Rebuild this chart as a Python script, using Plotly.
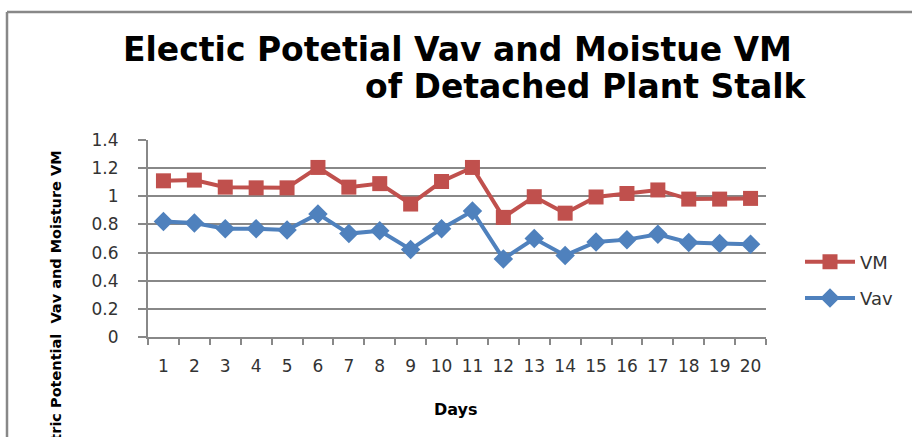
import plotly.graph_objects as go

days = [str(i) for i in range(1, 21)]
vm = [1.11, 1.115, 1.065, 1.06, 1.06, 1.205, 1.065, 1.09, 0.945, 1.105,
      1.205, 0.85, 0.997, 0.88, 0.995, 1.02, 1.045, 0.98, 0.98, 0.985]
vav = [0.82, 0.81, 0.77, 0.77, 0.76, 0.875, 0.735, 0.755, 0.622, 0.77,
       0.895, 0.555, 0.70, 0.58, 0.675, 0.692, 0.73, 0.672, 0.665, 0.66]

title_line1 = "Electic Potetial Vav and Moistue VM"
title_line2 = "of Detached Plant Stalk"
y_title = "Electric Potential  Vav and Moisture VM"
x_title = "Days"

fig = go.Figure()
fig.add_trace(go.Scatter(
    x=days, y=vm, name="VM", mode="lines+markers", legendgroup="vm",
    line=dict(color="#C0504D", width=4),
    marker=dict(symbol="square", size=15, color="#C0504D"),
))
fig.add_trace(go.Scatter(
    x=days, y=vav, name="Vav", mode="lines+markers", legendgroup="vav",
    line=dict(color="#4F81BD", width=4),
    marker=dict(symbol="diamond", size=15, color="#4F81BD"),
))

tick_font = dict(family="DejaVu Sans", size=17, color="#333333")

W, H = 912, 437
L, R, T, B = 148, 146, 140, 100
PW, PH = W - L - R, H - T - B


def px(xp):
    return (xp - L) / PW


def py(yp):
    return (H - B - yp) / PH


fig.update_layout(
    width=W, height=H,
    margin=dict(l=L, r=R, t=T, b=B, autoexpand=False),
    paper_bgcolor="white", plot_bgcolor="white",
    showlegend=True,
    legend=dict(x=px(800), y=py(280), xanchor="left", yanchor="middle",
                font=dict(family="DejaVu Sans", size=18, color="#333333"),
                traceorder="grouped", tracegroupgap=10, itemwidth=50,
                bgcolor="rgba(0,0,0,0)"),
    xaxis=dict(
        type="category", showline=True, linecolor="#888888", linewidth=2,
        ticks="outside", tickson="boundaries", ticklen=6, tickcolor="#888888",
        tickwidth=1.5, showgrid=False, tickfont=tick_font, ticklabelstandoff=13,
        tickangle=0, range=[-0.5, 19.5], automargin=False,
    ),
    yaxis=dict(
        range=[0, 1.4], dtick=0.2, showline=True, linecolor="#888888", linewidth=2,
        ticks="outside", ticklen=8, tickcolor="#888888", tickwidth=1.5,
        showgrid=True, gridcolor="#888888", gridwidth=2, zeroline=False,
        tickfont=tick_font, ticklabelstandoff=16, automargin=False,
    ),
    shapes=[
        dict(type="line", xref="paper", yref="paper", x0=px(7), x1=px(7),
             y0=py(12), y1=py(H + 10), line=dict(color="#888888", width=2.5)),
        dict(type="line", xref="paper", yref="paper", x0=px(7), x1=px(W + 10),
             y0=py(12), y1=py(12), line=dict(color="#888888", width=2.5)),
    ],
    annotations=[
        dict(text=title_line1, xref="paper", yref="paper",
             x=px(457), y=py(50), xanchor="center", yanchor="middle",
             showarrow=False, font=dict(family="DejaVu Sans", size=33, color="black")),
        dict(text=title_line2, xref="paper", yref="paper",
             x=px(586), y=py(86), xanchor="center", yanchor="middle",
             showarrow=False, font=dict(family="DejaVu Sans", size=33, color="black")),
        dict(text=y_title, xref="paper", yref="paper",
             x=px(56), y=py(148), xanchor="center", yanchor="top",
             showarrow=False, textangle=-90,
             font=dict(family="DejaVu Sans", size=14.5, color="black")),
        dict(text=x_title, xref="paper", yref="paper",
             x=px(456), y=py(409), xanchor="center", yanchor="middle",
             showarrow=False, font=dict(family="DejaVu Sans", size=16, color="black")),
    ],
)

for a in fig.layout.annotations:
    a.text = "<b>" + a.text + "</b>"

fig.write_html("out.html", config={"displayModeBar": False},
               post_script="document.body.style.margin='0';")
